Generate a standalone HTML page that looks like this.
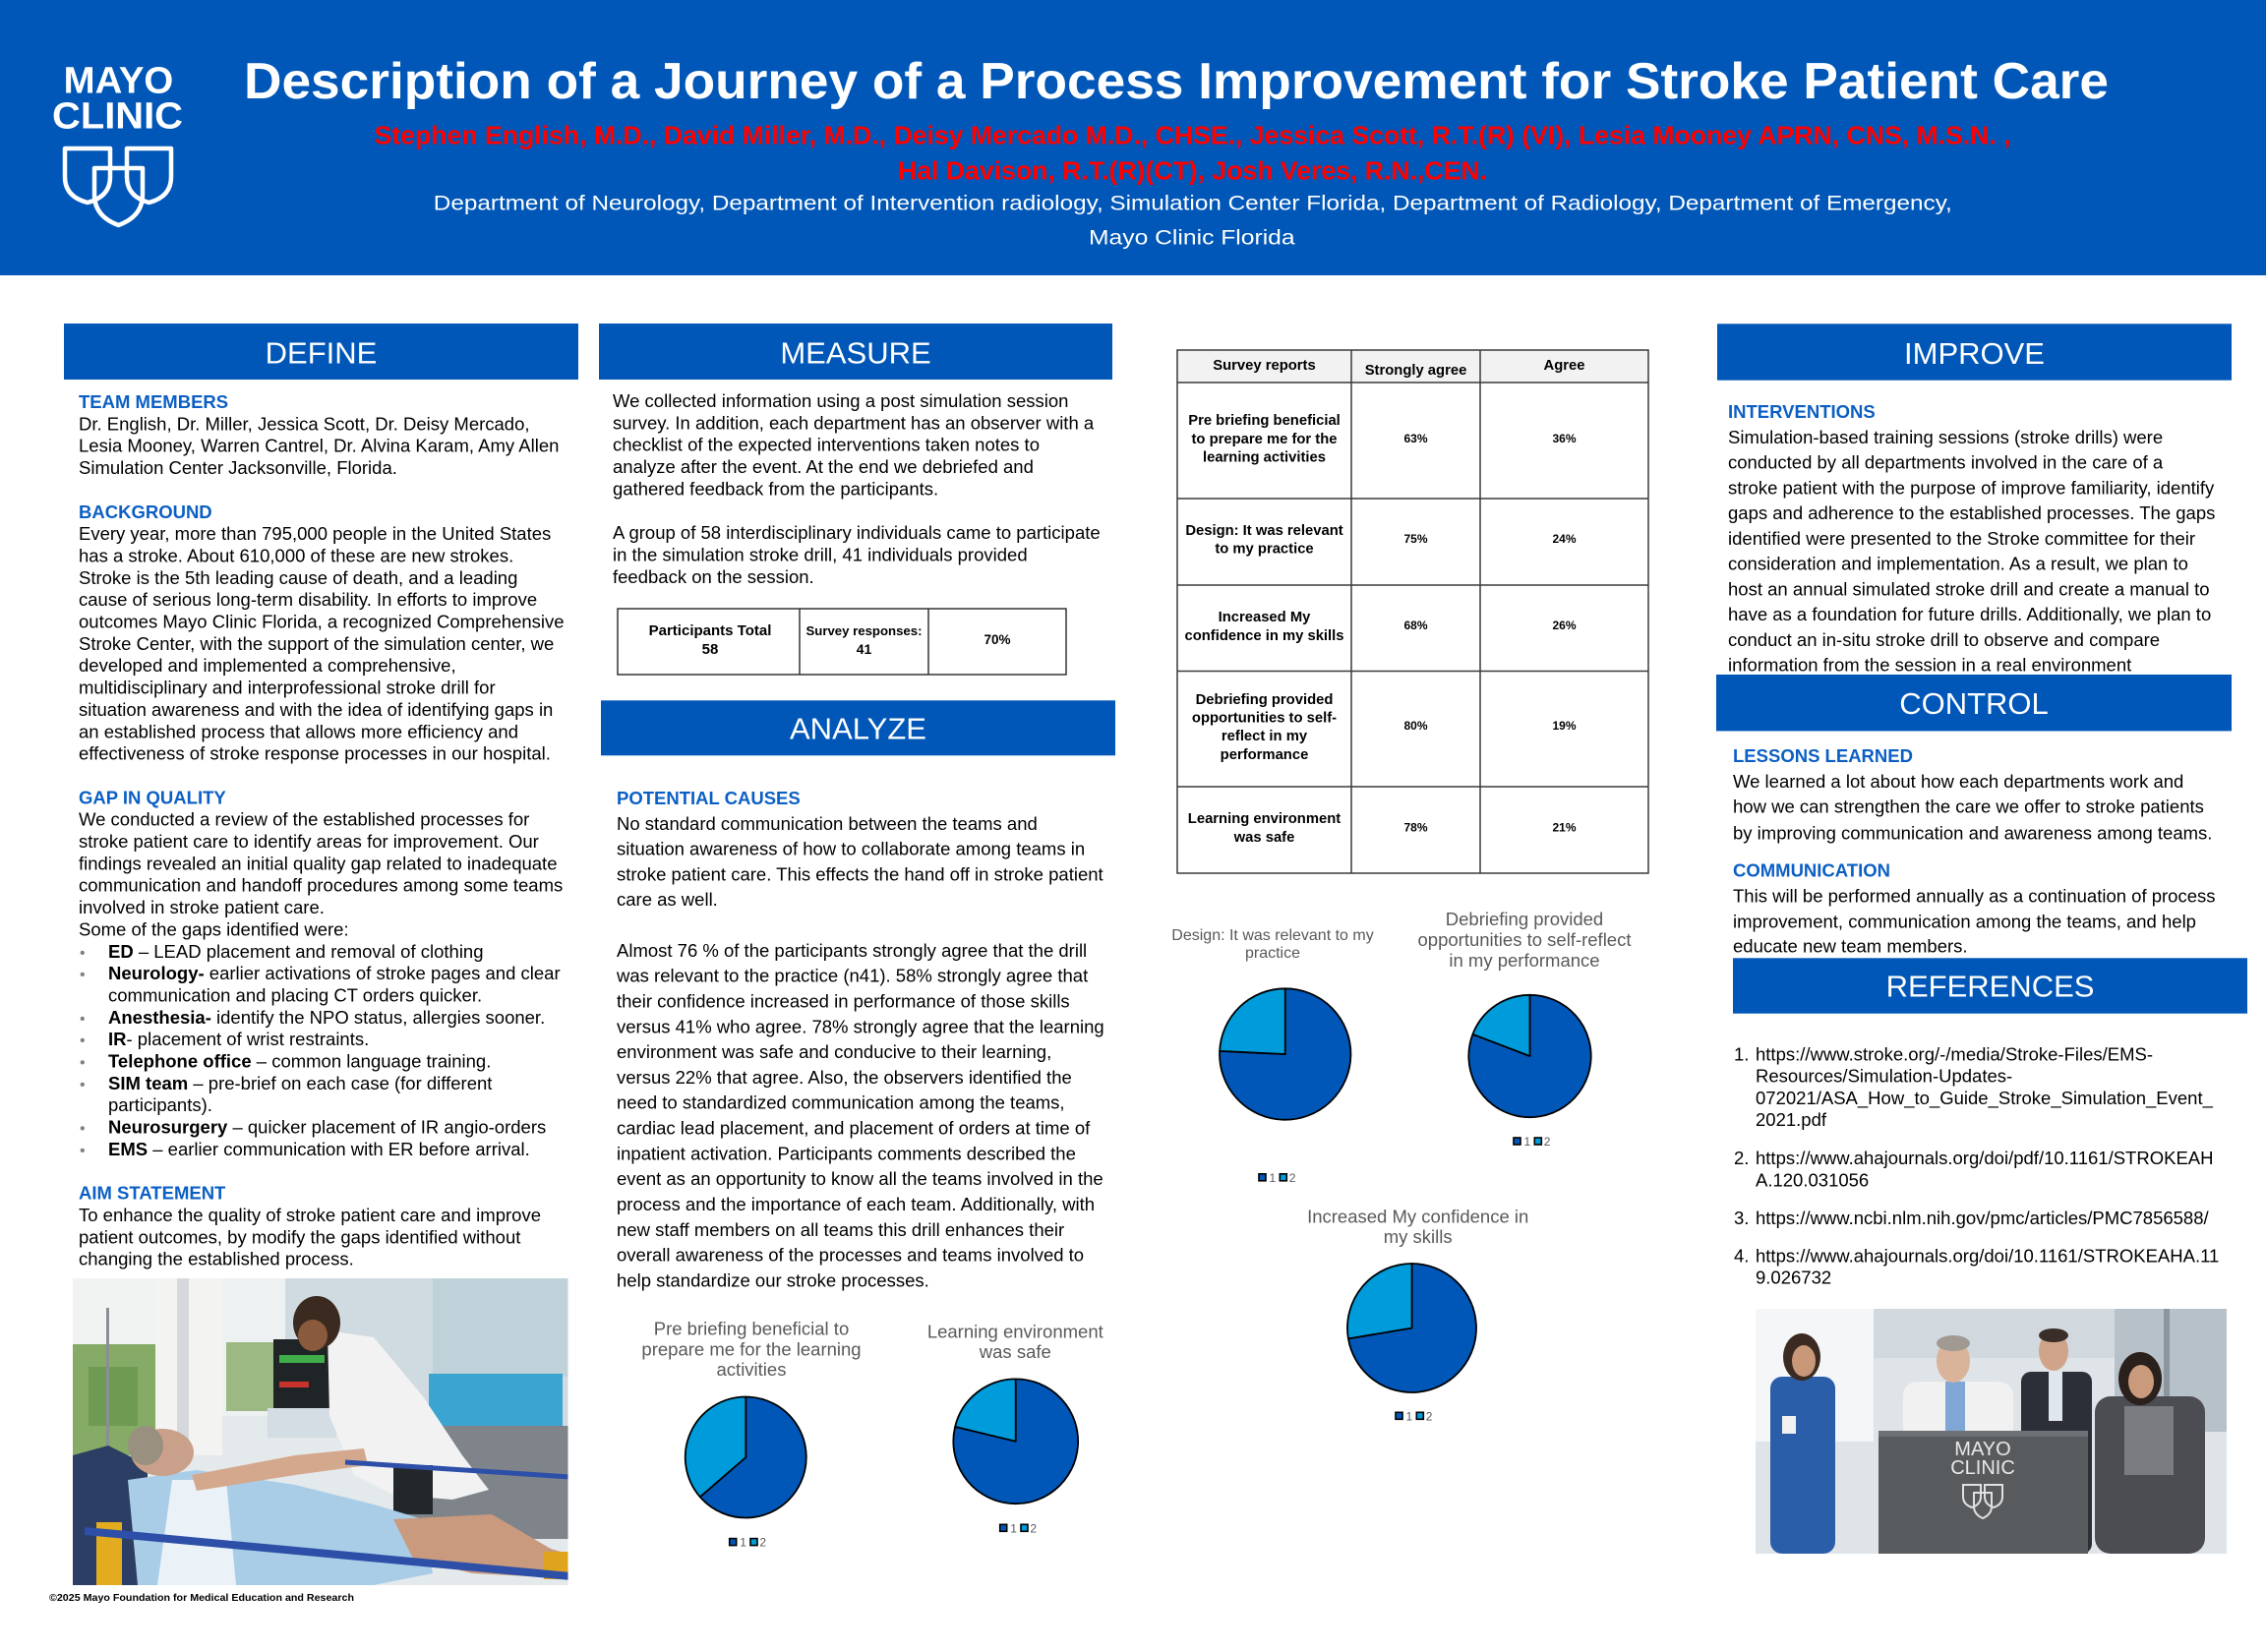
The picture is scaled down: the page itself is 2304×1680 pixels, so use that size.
<!DOCTYPE html>
<html><head><meta charset="utf-8"><title>Stroke Process Improvement Poster</title>
<style>
html,body{margin:0;padding:0;background:#fff;}
svg{display:block;}
text{font-family:"Liberation Sans",Arial,sans-serif;}
.t{font-size:18.5px;fill:#000;}
.h{font-size:18.5px;font-weight:bold;fill:#0b5fc4;}
.bar{font-size:31px;fill:#fff;text-anchor:middle;}
.bu{font-size:16px;fill:#808080;}
.tb{font-size:14.8px;font-weight:bold;fill:#000;text-anchor:middle;}
.pc{font-size:12px;font-weight:bold;fill:#000;text-anchor:middle;}
.pt{fill:#595959;text-anchor:middle;}
.lg{font-size:12px;fill:#595959;}
</style></head>
<body>
<svg width="2304" height="1680" viewBox="0 0 2304 1680" xmlns="http://www.w3.org/2000/svg">
<rect x="0" y="0" width="2304" height="1680" fill="#fff"/>
<!-- HEADER -->
<rect x="0" y="0" width="2304" height="280" fill="#0057b8"/>
<text x="64.7" y="94.3" font-size="38" font-weight="bold" fill="#fff" textLength="111.6" lengthAdjust="spacingAndGlyphs">MAYO</text>
<text x="53" y="130.7" font-size="38" font-weight="bold" fill="#fff" textLength="133" lengthAdjust="spacingAndGlyphs">CLINIC</text>
<g fill="none" stroke="#fff" stroke-width="4.5" stroke-linejoin="round">
<path d="M66,151 H112 V180 Q112,200 89,206 Q66,200 66,180 Z"/>
<path d="M129,151 H174 V180 Q174,200 151.5,206 Q129,200 129,180 Z"/>
<path d="M96,171 H145 V198 Q145,220 120.5,229 Q96,220 96,198 Z"/>
</g>
<text x="248" y="100" font-size="52" font-weight="bold" fill="#fff" textLength="1896" lengthAdjust="spacingAndGlyphs">Description of a Journey of a Process Improvement for Stroke Patient Care</text>
<text x="380.6" y="146.7" font-size="25.5" font-weight="bold" fill="#ff0000" textLength="1664" lengthAdjust="spacingAndGlyphs">Stephen English, M.D., David Miller, M.D., Deisy Mercado M.D., CHSE., Jessica Scott, R.T.(R) (VI), Lesia Mooney APRN, CNS, M.S.N. ,</text>
<text x="913" y="182.7" font-size="25.5" font-weight="bold" fill="#ff0000" textLength="599" lengthAdjust="spacingAndGlyphs">Hal Davison, R.T.(R)(CT), Josh Veres, R.N.,CEN.</text>
<text x="440.8" y="213.3" font-size="21" fill="#fff" textLength="1544" lengthAdjust="spacingAndGlyphs">Department  of Neurology,  Department of Intervention radiology,  Simulation Center Florida, Department of Radiology, Department of Emergency,</text>
<text x="1107" y="248.3" font-size="21" fill="#fff" textLength="209.6" lengthAdjust="spacingAndGlyphs">Mayo Clinic  Florida</text>

<!-- SECTION BARS -->
<rect x="65" y="329" width="523" height="57" fill="#0057b8"/>
<text class="bar" x="326.5" y="369.3">DEFINE</text>
<rect x="609" y="329" width="522" height="57" fill="#0057b8"/>
<text class="bar" x="870" y="369.3">MEASURE</text>
<rect x="611" y="712.3" width="523" height="56" fill="#0057b8"/>
<text class="bar" x="872.5" y="751.7">ANALYZE</text>
<rect x="1746" y="329.3" width="523" height="57.4" fill="#0057b8"/>
<text class="bar" x="2007.5" y="370">IMPROVE</text>
<rect x="1745" y="686" width="524" height="57.3" fill="#0057b8"/>
<text class="bar" x="2007" y="726">CONTROL</text>
<rect x="1762" y="974.3" width="523" height="56.4" fill="#0057b8"/>
<text class="bar" x="2023.5" y="1013.3">REFERENCES</text>

<!-- DEFINE COLUMN -->
<text class="h" x="80" y="415">TEAM MEMBERS</text>
<text class="t" x="80" y="437.35">Dr. English, Dr. Miller, Jessica Scott, Dr. Deisy  Mercado,</text>
<text class="t" x="80" y="459.7">Lesia Mooney, Warren Cantrel, Dr. Alvina Karam, Amy Allen</text>
<text class="t" x="80" y="482.05">Simulation Center Jacksonville, Florida.</text>
<text class="h" x="80" y="526.75">BACKGROUND</text>
<text class="t" x="80" y="549.1">Every year, more than 795,000 people in the United States</text>
<text class="t" x="80" y="571.45">has a stroke. About 610,000 of these are new strokes.</text>
<text class="t" x="80" y="593.8">Stroke is the 5th leading cause of death, and a leading</text>
<text class="t" x="80" y="616.15">cause of serious long-term disability.  In efforts to improve</text>
<text class="t" x="80" y="638.5">outcomes Mayo Clinic Florida, a recognized Comprehensive</text>
<text class="t" x="80" y="660.85">Stroke Center, with the support of the simulation center, we</text>
<text class="t" x="80" y="683.2">developed and implemented a comprehensive,</text>
<text class="t" x="80" y="705.55">multidisciplinary and interprofessional stroke drill for</text>
<text class="t" x="80" y="727.9">situation awareness and with the idea of identifying gaps in</text>
<text class="t" x="80" y="750.25">an established process that allows more efficiency and</text>
<text class="t" x="80" y="772.6">effectiveness of stroke response processes in our hospital.</text>
<text class="h" x="80" y="817.3">GAP IN QUALITY</text>
<text class="t" x="80" y="839.65">We conducted a review of the established processes for</text>
<text class="t" x="80" y="862">stroke patient care to identify areas for improvement. Our</text>
<text class="t" x="80" y="884.35">findings revealed an initial quality gap related to inadequate</text>
<text class="t" x="80" y="906.7">communication and handoff procedures among some teams</text>
<text class="t" x="80" y="929.05">involved in stroke patient care.</text>
<text class="t" x="80" y="951.4">Some of the gaps identified were:</text>
<text class="bu" x="81" y="973.75">•</text>
<text class="t" x="110" y="973.75"><tspan font-weight="bold">ED</tspan> – LEAD placement and removal of clothing</text>
<text class="bu" x="81" y="996.1">•</text>
<text class="t" x="110" y="996.1"><tspan font-weight="bold">Neurology-</tspan> earlier activations of stroke pages and clear</text>
<text class="t" x="110" y="1018.45">communication and  placing CT orders quicker.</text>
<text class="bu" x="81" y="1040.8">•</text>
<text class="t" x="110" y="1040.8"><tspan font-weight="bold">Anesthesia-</tspan> identify the NPO status, allergies sooner.</text>
<text class="bu" x="81" y="1063.15">•</text>
<text class="t" x="110" y="1063.15"><tspan font-weight="bold">IR</tspan>- placement of wrist restraints.</text>
<text class="bu" x="81" y="1085.5">•</text>
<text class="t" x="110" y="1085.5"><tspan font-weight="bold">Telephone office</tspan> – common language training.</text>
<text class="bu" x="81" y="1107.85">•</text>
<text class="t" x="110" y="1107.85"><tspan font-weight="bold">SIM team</tspan> – pre-brief on each case (for different</text>
<text class="t" x="110" y="1130.2">participants).</text>
<text class="bu" x="81" y="1152.55">•</text>
<text class="t" x="110" y="1152.55"><tspan font-weight="bold">Neurosurgery</tspan> – quicker placement of IR angio-orders</text>
<text class="bu" x="81" y="1174.9">•</text>
<text class="t" x="110" y="1174.9"><tspan font-weight="bold">EMS</tspan> – earlier communication with ER before arrival.</text>
<text class="h" x="80" y="1219.6">AIM STATEMENT</text>
<text class="t" x="80" y="1241.95">To enhance the quality of stroke patient care  and improve</text>
<text class="t" x="80" y="1264.3">patient outcomes, by modify the gaps identified  without</text>
<text class="t" x="80" y="1286.65">changing the established process.</text>

<!-- LEFT PHOTO -->
<defs>
<clipPath id="cp1"><rect x="74" y="1300" width="503.5" height="312"/></clipPath>
<clipPath id="cp2"><rect x="1785" y="1331" width="479" height="249"/></clipPath>
</defs>
<g clip-path="url(#cp1)">
<rect x="74" y="1300" width="504" height="312" fill="#e4e9ec"/>
<rect x="74" y="1300" width="84" height="70" fill="#f1f3f2"/>
<rect x="74" y="1367" width="84" height="113" fill="#86ab66"/>
<rect x="90" y="1390" width="50" height="60" fill="#6f9a52"/>
<rect x="108" y="1330" width="3" height="150" fill="#8a8f94"/>
<rect x="158" y="1300" width="68" height="180" fill="#f3f3f1"/>
<rect x="180" y="1300" width="12" height="180" fill="#d6d9dc"/>
<rect x="226" y="1300" width="64" height="140" fill="#eef1f1"/>
<rect x="230" y="1365" width="56" height="70" fill="#9cb984"/>
<rect x="290" y="1300" width="288" height="150" fill="#cfdbe1"/>
<rect x="440" y="1300" width="138" height="100" fill="#bfd2da"/>
<rect x="436" y="1397" width="136" height="58" fill="#3ba4d0"/>
<rect x="400" y="1450" width="178" height="115" fill="#7e848a"/>
<rect x="278" y="1362" width="59" height="70" fill="#1f2427"/>
<rect x="284" y="1378" width="46" height="8" fill="#3fae4a"/>
<rect x="284" y="1405" width="30" height="6" fill="#c8332b"/>
<rect x="272" y="1432" width="70" height="30" fill="#d4dce4"/>
<polygon points="333,1353 380,1360 430,1420 470,1480 497,1515 460,1525 400,1520 360,1500 335,1440" fill="#f2f2f2"/>
<rect x="400" y="1490" width="40" height="50" fill="#23262b"/>
<ellipse cx="322" cy="1345" rx="24" ry="27" fill="#3a2a20"/>
<ellipse cx="318" cy="1358" rx="15" ry="16" fill="#8a5a3c"/>
<polygon points="74,1480 110,1470 150,1490 150,1612 74,1612" fill="#2c3e63"/>
<polygon points="130,1505 200,1495 300,1510 380,1530 430,1545 440,1600 380,1612 140,1612" fill="#a9cde6"/>
<polygon points="175,1505 230,1505 240,1612 160,1612" fill="#eaf2f8"/>
<ellipse cx="165" cy="1477" rx="32" ry="24" fill="#c9a089"/>
<ellipse cx="148" cy="1470" rx="18" ry="20" fill="#9a9080"/>
<polygon points="195,1500 300,1480 370,1473 374,1490 300,1500 200,1516" fill="#d4a88c"/>
<polygon points="400,1545 500,1540 560,1575 577,1580 577,1605 480,1600 420,1585" fill="#c99a7e"/>
<rect x="553" y="1578" width="25" height="28" fill="#e0a41c"/>
<rect x="98" y="1548" width="26" height="64" fill="#e3ac1f"/>
<line x1="86" y1="1557" x2="580" y2="1603" stroke="#2d4fa8" stroke-width="8"/>
<line x1="351" y1="1487" x2="580" y2="1502" stroke="#2d4fa8" stroke-width="5"/>
</g>
<text x="50" y="1628" font-size="10.5" font-weight="bold" fill="#000" textLength="310" lengthAdjust="spacingAndGlyphs">©2025 Mayo Foundation for Medical Education and Research</text>

<!-- MEASURE COLUMN -->
<text class="t" x="623" y="414">We collected information using a post simulation session</text>
<text class="t" x="623" y="436.35">survey.  In addition, each department has an observer with a</text>
<text class="t" x="623" y="458.7">checklist of the expected interventions taken notes to</text>
<text class="t" x="623" y="481.05">analyze after the event. At the end we debriefed and</text>
<text class="t" x="623" y="503.4">gathered feedback from the participants.</text>
<text class="t" x="623" y="548.1">A group of 58 interdisciplinary individuals came to participate</text>
<text class="t" x="623" y="570.45">in the simulation stroke drill, 41 individuals provided</text>
<text class="t" x="623" y="592.8">feedback on the session.</text>

<g stroke="#333" stroke-width="1.5" fill="none">
<rect x="628" y="619" width="456" height="67"/>
<line x1="813" y1="619" x2="813" y2="686"/>
<line x1="944" y1="619" x2="944" y2="686"/>
</g>
<text class="tb" x="722" y="646" style="font-size:15px">Participants Total</text>
<text class="tb" x="722" y="665" style="font-size:15px">58</text>
<text class="tb" x="878.5" y="646" style="font-size:13.2px">Survey responses:</text>
<text class="tb" x="878.5" y="665" style="font-size:14px">41</text>
<text class="tb" x="1014" y="655" style="font-size:13.5px">70%</text>

<!-- ANALYZE COLUMN -->
<text class="h" x="627" y="818">POTENTIAL CAUSES</text>
<text class="t" x="627" y="843.81">No standard communication between the teams and</text>
<text class="t" x="627" y="869.62">situation awareness of how to collaborate among teams in</text>
<text class="t" x="627" y="895.43">stroke patient care. This effects the hand off in stroke patient</text>
<text class="t" x="627" y="921.24">care as well.</text>
<text class="t" x="627" y="972.86">Almost 76 % of the participants strongly agree that the drill</text>
<text class="t" x="627" y="998.67">was relevant to the practice (n41). 58% strongly agree that</text>
<text class="t" x="627" y="1024.48">their confidence increased in performance of those skills</text>
<text class="t" x="627" y="1050.29">versus 41% who agree.  78% strongly agree that the learning</text>
<text class="t" x="627" y="1076.1">environment was safe and conducive to their learning,</text>
<text class="t" x="627" y="1101.91">versus 22% that agree. Also, the observers identified the</text>
<text class="t" x="627" y="1127.72">need to standardized communication among the teams,</text>
<text class="t" x="627" y="1153.53">cardiac lead placement, and placement of orders at time of</text>
<text class="t" x="627" y="1179.34">inpatient activation.  Participants comments described the</text>
<text class="t" x="627" y="1205.15">event as an opportunity to know all the teams involved in the</text>
<text class="t" x="627" y="1230.96">process and the importance of each team. Additionally, with</text>
<text class="t" x="627" y="1256.77">new staff members on all teams this drill enhances their</text>
<text class="t" x="627" y="1282.58">overall awareness of the processes and teams involved to</text>
<text class="t" x="627" y="1308.39">help standardize our stroke processes.</text>

<!-- BIG TABLE -->
<rect x="1197" y="356" width="479" height="33" fill="#f2f2f2"/>
<g stroke="#3a3a3a" stroke-width="1.5" fill="none">
<rect x="1197" y="356" width="479" height="532"/>
<line x1="1374" y1="356" x2="1374" y2="888"/>
<line x1="1505" y1="356" x2="1505" y2="888"/>
<line x1="1197" y1="389" x2="1676" y2="389"/>
<line x1="1197" y1="507" x2="1676" y2="507"/>
<line x1="1197" y1="595" x2="1676" y2="595"/>
<line x1="1197" y1="682.5" x2="1676" y2="682.5"/>
<line x1="1197" y1="800" x2="1676" y2="800"/>
</g>
<text class="tb" x="1285.5" y="376">Survey reports</text>
<text class="tb" x="1439.5" y="381">Strongly agree</text>
<text class="tb" x="1590.5" y="376">Agree</text>
<text class="tb" x="1285.5" y="432">Pre briefing beneficial</text>
<text class="tb" x="1285.5" y="451">to prepare me for the</text>
<text class="tb" x="1285.5" y="469.5">learning activities</text>
<text class="pc" x="1439.5" y="450">63%</text>
<text class="pc" x="1590.5" y="450">36%</text>
<text class="tb" x="1285.5" y="544">Design: It was relevant</text>
<text class="tb" x="1285.5" y="562.5">to my practice</text>
<text class="pc" x="1439.5" y="552">75%</text>
<text class="pc" x="1590.5" y="552">24%</text>
<text class="tb" x="1285.5" y="632">Increased My</text>
<text class="tb" x="1285.5" y="651">confidence in my skills</text>
<text class="pc" x="1439.5" y="640">68%</text>
<text class="pc" x="1590.5" y="640">26%</text>
<text class="tb" x="1285.5" y="716">Debriefing provided</text>
<text class="tb" x="1285.5" y="734.5">opportunities to self-</text>
<text class="tb" x="1285.5" y="753">reflect in my</text>
<text class="tb" x="1285.5" y="772">performance</text>
<text class="pc" x="1439.5" y="742">80%</text>
<text class="pc" x="1590.5" y="742">19%</text>
<text class="tb" x="1285.5" y="837">Learning environment</text>
<text class="tb" x="1285.5" y="856">was safe</text>
<text class="pc" x="1439.5" y="845.5">78%</text>
<text class="pc" x="1590.5" y="845.5">21%</text>

<!-- PIE CHARTS -->
<g stroke="#000" stroke-width="1.8" stroke-linejoin="round">
<path d="M1306.7,1072 L1306.7,1005.3 A66.7,66.7 0 1 1 1240.1,1068.9 Z" fill="#0057b8"/>
<path d="M1306.7,1072 L1240.1,1068.9 A66.7,66.7 0 0 1 1306.7,1005.3 Z" fill="#009bdb"/>
<path d="M1555.5,1074 L1555.5,1011.8 A62.2,62.2 0 1 1 1497.4,1051.8 Z" fill="#0057b8"/>
<path d="M1555.5,1074 L1497.4,1051.8 A62.2,62.2 0 0 1 1555.5,1011.8 Z" fill="#009bdb"/>
<path d="M1435.5,1350.5 L1435.5,1285 A65.5,65.5 0 1 1 1370.9,1361.4 Z" fill="#0057b8"/>
<path d="M1435.5,1350.5 L1370.9,1361.4 A65.5,65.5 0 0 1 1435.5,1285 Z" fill="#009bdb"/>
<path d="M758.3,1482 L758.3,1420.5 A61.5,61.5 0 1 1 711.8,1522.3 Z" fill="#0057b8"/>
<path d="M758.3,1482 L711.8,1522.3 A61.5,61.5 0 0 1 758.3,1420.5 Z" fill="#009bdb"/>
<path d="M1032.7,1465.8 L1032.7,1402.4 A63.4,63.4 0 1 1 971.1,1450.9 Z" fill="#0057b8"/>
<path d="M1032.7,1465.8 L971.1,1450.9 A63.4,63.4 0 0 1 1032.7,1402.4 Z" fill="#009bdb"/>
</g>
<text class="pt" x="1294" y="956" font-size="16">Design: It was relevant to my</text>
<text class="pt" x="1294" y="974" font-size="16">practice</text>
<text class="pt" x="1550" y="941" font-size="18.5">Debriefing provided</text>
<text class="pt" x="1550" y="961.8" font-size="18.5">opportunities to self-reflect</text>
<text class="pt" x="1550" y="982.9" font-size="18.5">in my performance</text>
<text class="pt" x="1441.7" y="1243.6" font-size="18.5">Increased My confidence in</text>
<text class="pt" x="1441.7" y="1264" font-size="18.5">my skills</text>
<text class="pt" x="764" y="1357.7" font-size="18.5">Pre briefing beneficial to</text>
<text class="pt" x="764" y="1378.3" font-size="18.5">prepare me for the learning</text>
<text class="pt" x="764" y="1399" font-size="18.5">activities</text>
<text class="pt" x="1032.3" y="1360.7" font-size="18.5">Learning environment</text>
<text class="pt" x="1032.3" y="1381" font-size="18.5">was safe</text>

<!-- legends -->
<g stroke="#000" stroke-width="1.6">
<rect x="1280" y="1193.8" width="7" height="7" fill="#0057b8"/><rect x="1301.3" y="1193.8" width="7" height="7" fill="#009bdb"/>
<rect x="1539" y="1157" width="7" height="7" fill="#0057b8"/><rect x="1560.3" y="1157" width="7" height="7" fill="#009bdb"/>
<rect x="1419" y="1436.3" width="7" height="7" fill="#0057b8"/><rect x="1440.3" y="1436.3" width="7" height="7" fill="#009bdb"/>
<rect x="741.7" y="1564.6" width="7" height="7" fill="#0057b8"/><rect x="763" y="1564.6" width="7" height="7" fill="#009bdb"/>
<rect x="1016.7" y="1550.3" width="7" height="7" fill="#0057b8"/><rect x="1038" y="1550.3" width="7" height="7" fill="#009bdb"/>
</g>
<text class="lg" x="1290.5" y="1201.8">1</text><text class="lg" x="1310.7" y="1201.8">2</text>
<text class="lg" x="1549.5" y="1165">1</text><text class="lg" x="1569.7" y="1165">2</text>
<text class="lg" x="1429.5" y="1444.3">1</text><text class="lg" x="1449.7" y="1444.3">2</text>
<text class="lg" x="752.2" y="1572.6">1</text><text class="lg" x="772.4" y="1572.6">2</text>
<text class="lg" x="1027.2" y="1558.3">1</text><text class="lg" x="1047.4" y="1558.3">2</text>

<!-- IMPROVE COLUMN -->
<text class="h" x="1757" y="425">INTERVENTIONS</text>
<text class="t" x="1757" y="450.77">Simulation-based training sessions (stroke drills) were</text>
<text class="t" x="1757" y="476.54">conducted by all departments involved in the care of a</text>
<text class="t" x="1757" y="502.31">stroke patient with the purpose of improve familiarity, identify</text>
<text class="t" x="1757" y="528.08">gaps and adherence to the established processes. The gaps</text>
<text class="t" x="1757" y="553.85">identified were presented to the Stroke committee for their</text>
<text class="t" x="1757" y="579.62">consideration and implementation. As a result, we plan to</text>
<text class="t" x="1757" y="605.39">host an annual simulated stroke drill and create a manual to</text>
<text class="t" x="1757" y="631.16">have as a foundation for future drills. Additionally, we plan to</text>
<text class="t" x="1757" y="656.93">conduct an in-situ stroke drill to observe and compare</text>
<text class="t" x="1757" y="682.7">information from the session in a real environment</text>
<rect x="1745" y="686" width="524" height="57.3" fill="#0057b8"/>
<text class="bar" x="2007" y="726">CONTROL</text>

<!-- CONTROL -->
<text class="h" x="1762" y="775">LESSONS LEARNED</text>
<text class="t" x="1762" y="801">We learned a lot about how each departments work and</text>
<text class="t" x="1762" y="826.7">how we can strengthen the care we offer to stroke patients</text>
<text class="t" x="1762" y="853.3">by improving communication and awareness among teams.</text>
<text class="h" x="1762" y="891.7">COMMUNICATION</text>
<text class="t" x="1762" y="917.3">This will be performed annually as a continuation of process</text>
<text class="t" x="1762" y="943.3">improvement, communication among the teams, and help</text>
<text class="t" x="1762" y="968.3">educate new team members.</text>

<!-- REFERENCES -->
<text class="t" x="1763" y="1078.3">1.</text>
<text class="t" x="1785" y="1078.3">https://www.stroke.org/-/media/Stroke-Files/EMS-</text>
<text class="t" x="1785" y="1100.6">Resources/Simulation-Updates-</text>
<text class="t" x="1785" y="1122.9">072021/ASA_How_to_Guide_Stroke_Simulation_Event_</text>
<text class="t" x="1785" y="1145.2">2021.pdf</text>
<text class="t" x="1763" y="1184">2.</text>
<text class="t" x="1785" y="1184">https://www.ahajournals.org/doi/pdf/10.1161/STROKEAH</text>
<text class="t" x="1785" y="1206.3">A.120.031056</text>
<text class="t" x="1763" y="1245">3.</text>
<text class="t" x="1785" y="1245">https://www.ncbi.nlm.nih.gov/pmc/articles/PMC7856588/</text>
<text class="t" x="1763" y="1283.3">4.</text>
<text class="t" x="1785" y="1283.3">https://www.ahajournals.org/doi/10.1161/STROKEAHA.11</text>
<text class="t" x="1785" y="1305.6">9.026732</text>

<!-- RIGHT PHOTO -->
<g clip-path="url(#cp2)">
<rect x="1785" y="1331" width="479" height="249" fill="#dfe4e8"/>
<rect x="1785" y="1331" width="120" height="135" fill="#f4f6f7"/>
<rect x="1905" y="1331" width="250" height="50" fill="#d2d9de"/>
<rect x="2150" y="1331" width="114" height="125" fill="#b7c1c9"/>
<rect x="2200" y="1331" width="6" height="125" fill="#8d969e"/>
<!-- woman 1 -->
<rect x="1800" y="1400" width="66" height="180" rx="12" fill="#2a5ea8"/>
<ellipse cx="1832" cy="1380" rx="19" ry="24" fill="#3a2a22"/>
<ellipse cx="1834" cy="1384" rx="12" ry="16" fill="#c89878"/>
<rect x="1812" y="1440" width="14" height="18" fill="#f0f0f0"/>
<!-- man 2 -->
<rect x="1935" y="1405" width="112" height="175" rx="14" fill="#f1f1f1"/>
<rect x="1978" y="1405" width="20" height="60" fill="#7fa6d4"/>
<ellipse cx="1986" cy="1384" rx="17" ry="22" fill="#d9b39a"/>
<ellipse cx="1986" cy="1366" rx="17" ry="8" fill="#a09a92"/>
<!-- man 3 -->
<rect x="2055" y="1395" width="72" height="185" rx="10" fill="#2c2f38"/>
<rect x="2083" y="1395" width="14" height="50" fill="#dfe6ee"/>
<ellipse cx="2088" cy="1374" rx="15" ry="20" fill="#d0a48a"/>
<ellipse cx="2088" cy="1358" rx="15" ry="7" fill="#3a2e28"/>
<!-- woman 4 -->
<rect x="2130" y="1420" width="112" height="160" rx="16" fill="#4b4d52"/>
<rect x="2160" y="1430" width="50" height="70" fill="#7a7c80"/>
<ellipse cx="2176" cy="1402" rx="22" ry="27" fill="#2a201c"/>
<ellipse cx="2177" cy="1405" rx="13" ry="17" fill="#c99a7c"/>
<!-- podium -->
<rect x="1910" y="1455" width="213" height="125" fill="#585b5e"/>
<rect x="1910" y="1455" width="213" height="6" fill="#6e7276"/>
<text x="2016" y="1480" font-family="'Liberation Serif',serif" font-size="20" fill="#e8e8e8" text-anchor="middle">MAYO</text>
<text x="2016" y="1499" font-family="'Liberation Serif',serif" font-size="20" fill="#e8e8e8" text-anchor="middle">CLINIC</text>
<g fill="none" stroke="#e0e0e0" stroke-width="2">
<path d="M1996,1510 H2014 V1522 Q2014,1530 2005,1533 Q1996,1530 1996,1522 Z"/>
<path d="M2018,1510 H2036 V1522 Q2036,1530 2027,1533 Q2018,1530 2018,1522 Z"/>
<path d="M2007,1518 H2025 V1532 Q2025,1540 2016,1544 Q2007,1540 2007,1532 Z"/>
</g>
</g>
</svg>
</body></html>
